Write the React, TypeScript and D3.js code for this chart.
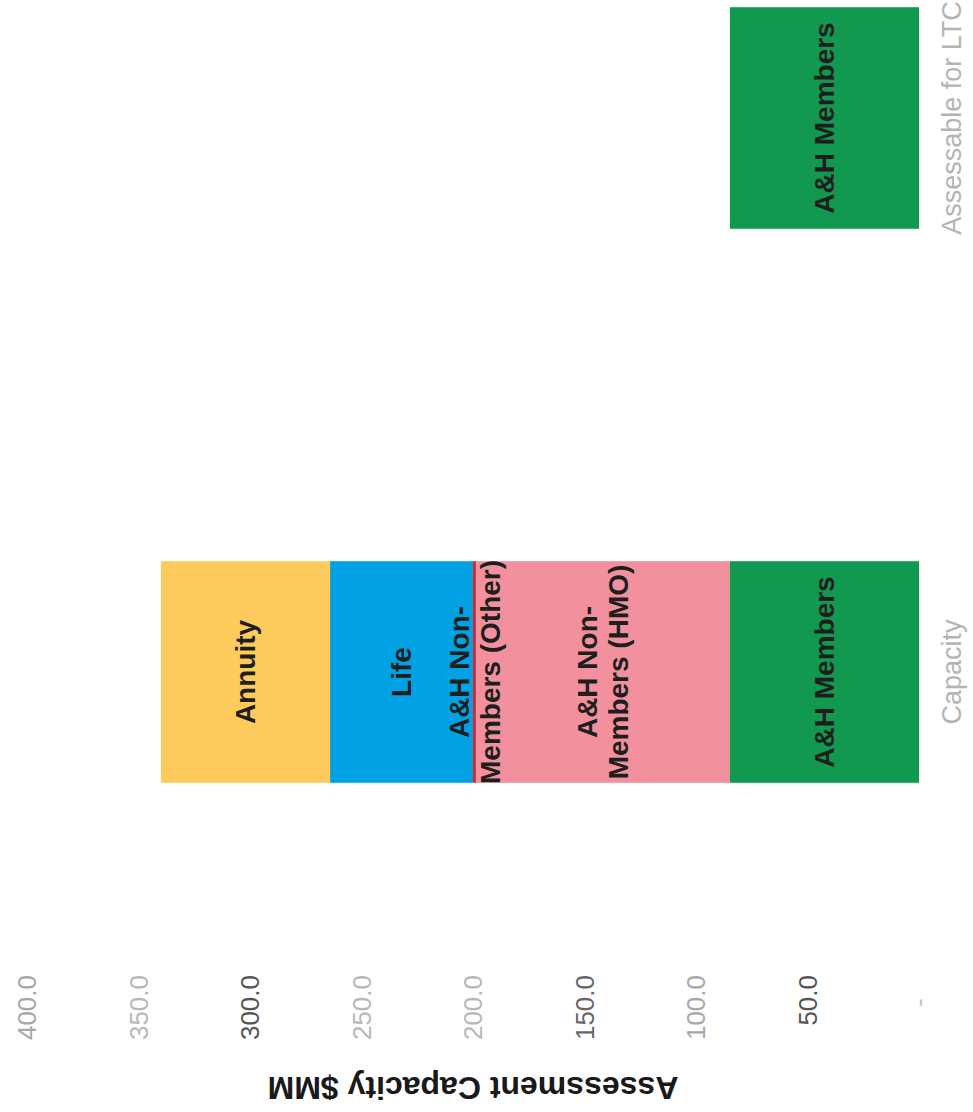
import React from "react";
import * as d3 from "d3";

// ---- data ----
const categories = ["Capacity", "Assessable for LTC"];
const seriesKeys = ["A&H Members", "A&H Non-Members (HMO)", "A&H Non-Members (Other)", "Life", "Annuity"];
const ahMembers = [85.0, 84.8];
const ahNonMembersHmo = [113.7, 0];
const ahNonMembersOther = [1.3, 0];
const life = [64.1, 0];
const annuity = [75.8, 0];
const tickValues = [0, 50, 100, 150, 200, 250, 300, 350, 400];
const tickLabels = ["-", "50.0", "100.0", "150.0", "200.0", "250.0", "300.0", "350.0", "400.0"];
const labelLines = [["A&H Members"], ["A&H Non-", "Members (HMO)"], ["A&H Non-", "Members (Other)"], ["Life"], ["Annuity"]];
const axisTitle = "Assessment Capacity $MM";

// ---- style ----
const W = 973;
const H = 1112;
const FONT = "'Liberation Sans', Arial, Helvetica, sans-serif";
const colors = ["#10994f", "#f3909e", "#d7262f", "#00a2e3", "#fdcb5b"];
const tickTone: Record<number, string> = {
  0: "#c4c4c4", 50: "#555", 100: "#a8a8a8", 150: "#666", 200: "#b8b8b8",
  250: "#b8b8b8", 300: "#555", 350: "#b8b8b8", 400: "#a8a8a8",
};

export default function App() {
  const seriesValues = [ahMembers, ahNonMembersHmo, ahNonMembersOther, life, annuity];
  const rows = categories.map((c, ci) => {
    const r: Record<string, any> = { category: c };
    seriesKeys.forEach((k, si) => (r[k] = seriesValues[si][ci]));
    return r;
  });
  const stacked = d3.stack<any>().keys(seriesKeys)(rows);

  const x = d3.scaleLinear().domain([0, 400]).range([919, 27]);
  const y = d3
    .scaleBand<string>()
    .domain(["Assessable for LTC", "Capacity"])
    .range([-159, 949])
    .paddingInner(0.6)
    .paddingOuter(0.3);
  const bw = y.bandwidth();

  const labelSize = 28;
  const lineGap = 31;

  return (
    <svg
      width={W}
      height={H}
      viewBox={`0 0 ${W} ${H}`}
      style={{ position: "absolute", left: 0, top: 0, background: "#fff" }}
    >
      <rect x={0} y={0} width={W} height={H} fill="#fff" />
      {/* bars */}
      {stacked.map((layer, si) =>
        layer.map((d, ci) => {
          const w = x(d[0]) - x(d[1]);
          if (w <= 0) return null;
          const cat = categories[ci];
          return (
            <rect
              key={`r-${si}-${ci}`}
              x={x(d[1])}
              y={y(cat)}
              width={w}
              height={bw}
              fill={colors[si]}
            />
          );
        })
      )}
      {/* segment labels */}
      {stacked.map((layer, si) =>
        layer.map((d, ci) => {
          if (d[1] - d[0] <= 0) return null;
          const cat = categories[ci];
          const cx = (x(d[0]) + x(d[1])) / 2;
          const cy = (y(cat) as number) + bw / 2;
          const lines = labelLines[si];
          return (
            <text
              key={`l-${si}-${ci}`}
              transform={`translate(${cx},${cy}) rotate(-90)`}
              textAnchor="middle"
              fontFamily={FONT}
              fontWeight="bold"
              fontSize={labelSize}
              fill="#1e1e1e"
            >
              {lines.map((t, j) => (
                <tspan key={j} x={0} y={(j - (lines.length - 1) / 2) * lineGap + labelSize * 0.35}>
                  {t}
                </tspan>
              ))}
            </text>
          );
        })
      )}
      {/* value axis tick labels */}
      {tickValues.map((v, i) => (
        <text
          key={`t-${v}`}
          transform={`translate(${x(v)},975) rotate(-90)`}
          textAnchor="end"
          dy="0.35em"
          dx={v === 0 ? "-0.9em" : "0"}
          fontFamily={FONT}
          fontSize={26}
          fill={tickTone[v]}
        >
          {tickLabels[i]}
        </text>
      ))}
      {/* category labels */}
      {categories.map((c) => (
        <text
          key={`c-${c}`}
          transform={`translate(961,${(y(c) as number) + bw / 2}) rotate(-90)`}
          textAnchor="middle"
          fontFamily={FONT}
          fontSize={27}
          fill="#b4b4b4"
        >
          {c}
        </text>
      ))}
      {/* axis title */}
      <text
        transform={`translate(${(x(0) + x(400)) / 2},1077) rotate(180)`}
        textAnchor="middle"
        fontFamily={FONT}
        fontWeight="bold"
        fontSize={32}
        fill="#1a1a1a"
      >
        {axisTitle}
      </text>
    </svg>
  );
}
